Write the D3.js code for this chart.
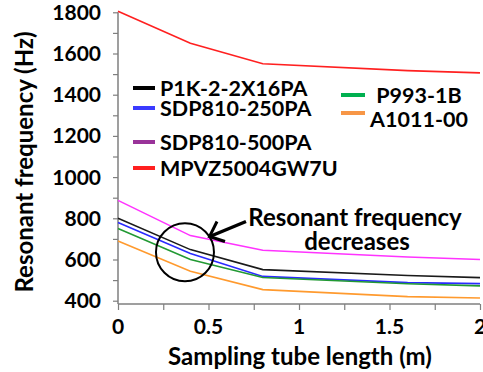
<!DOCTYPE html>
<html>
<head>
<meta charset="utf-8">
<script src="https://cdn.jsdelivr.net/npm/d3@7"></script>
<style>
  body { margin: 0; background: #fff; }
  text { font-family: Lato, "Open Sans", sans-serif; font-weight: 700; fill: #000; }
</style>
</head>
<body>
<script>
// tube lengths (m) where the frequency was measured
var lengths = [0, 0.4, 0.8, 1.6, 2];

// resonant frequency (Hz) per sensor
var p1k = [800, 648, 551, 522, 512];
var sdp250 = [780, 629, 518, 488, 483];
var sdp500 = [887, 716, 645, 612, 600];
var mpvz = [1805, 1650, 1550, 1517, 1506];
var p993 = [750, 600, 513, 482, 472];
var a1011 = [690, 543, 454, 420, 413];

var names = ['P1K-2-2X16PA', 'SDP810-250PA', 'SDP810-500PA', 'MPVZ5004GW7U', 'P993-1B', 'A1011-00'];
var xTicks = [0, 0.5, 1, 1.5, 2];
var yTicks = [400, 600, 800, 1000, 1200, 1400, 1600, 1800];

var series = [
  {name: names[0], values: p1k, color: '#1a1a1a', legend: '#000000'},
  {name: names[1], values: sdp250, color: '#2a2aff', legend: '#3a3aff'},
  {name: names[2], values: sdp500, color: '#ff33ff', legend: '#993399'},
  {name: names[3], values: mpvz, color: '#ff2020', legend: '#ff2020'},
  {name: names[4], values: p993, color: '#229933', legend: '#00b050'},
  {name: names[5], values: a1011, color: '#ff9a2e', legend: '#f79646'}
];

var W = 483, H = 372;
var svg = d3.select('body').append('svg').attr('width', W).attr('height', H);

var x = d3.scaleLinear().domain([0, 2]).range([118, 480]);
var y = d3.scaleLinear().domain([384, 1800]).range([304, 12.3]);

// axes, minor ticks included
var xAxis = svg.append('g').attr('transform', 'translate(0,' + y(384) + ')');
xAxis.call(d3.axisBottom(x).tickValues(d3.range(0, 2.01, 0.25)).tickSize(6).tickFormat(''));
var yAxis = svg.append('g').attr('transform', 'translate(' + x(0) + ',0)');
yAxis.call(d3.axisLeft(y).tickValues(d3.range(400, 1801, 100)).tickSize(5).tickFormat(''));
svg.selectAll('.domain').attr('stroke', '#7f7f7f').attr('stroke-width', 1.5);
svg.selectAll('.tick line').attr('stroke', '#7f7f7f').attr('stroke-width', 1.2);
yAxis.select('.domain').attr('d', 'M0,' + y(1800) + 'V' + y(384));
xAxis.select('.domain').attr('d', 'M' + x(0) + ',0H' + x(2));

svg.selectAll('.ylab').data(yTicks).enter().append('text')
  .attr('x', 101).attr('y', function(d) { return y(d) + 7.5; })
  .attr('text-anchor', 'end').style('font-size', '21px')
  .text(function(d) { return d; });

svg.selectAll('.xlab').data(xTicks).enter().append('text')
  .attr('x', function(d) { return x(d); }).attr('y', 334)
  .attr('text-anchor', 'middle').style('font-size', '21px')
  .text(function(d) { return d; });

svg.append('text').attr('x', 300).attr('y', 365).attr('text-anchor', 'middle')
  .style('font-size', '24px').text('Sampling tube length (m)');
svg.append('text').attr('transform', 'translate(33,162) rotate(-90)').attr('text-anchor', 'middle')
  .style('font-size', '24px').text('Resonant frequency (Hz)');

// lines
var line = d3.line()
  .x(function(d, i) { return x(lengths[i]); })
  .y(function(d) { return y(d); });

series.forEach(function(s) {
  svg.append('path').attr('d', line(s.values))
    .attr('fill', 'none').attr('stroke', s.color).attr('stroke-width', 1.6);
});

// legend
var legY = [88, 108, 142, 168];
for (var i = 0; i < 4; i++) {
  svg.append('line').attr('x1', 133).attr('x2', 155).attr('y1', legY[i]).attr('y2', legY[i])
    .attr('stroke', series[i].legend).attr('stroke-width', 4);
  svg.append('text').attr('x', 160).attr('y', legY[i] + 8).style('font-size', '21.5px').text(series[i].name);
}
var legY2 = [95, 113];
for (var j = 0; j < 2; j++) {
  svg.append('line').attr('x1', 341).attr('x2', 365).attr('y1', legY2[j]).attr('y2', legY2[j])
    .attr('stroke', series[4 + j].legend).attr('stroke-width', 4);
  svg.append('text').attr('x', 419).attr('y', legY2[j] + 8 + j * 6).attr('text-anchor', 'middle')
    .style('font-size', '21.5px').text(series[4 + j].name);
}

// annotation
svg.append('circle').attr('cx', x(0.37)).attr('cy', y(635)).attr('r', 29)
  .attr('fill', 'none').attr('stroke', '#000').attr('stroke-width', 2);
svg.append('line').attr('x1', 246).attr('y1', 221.5).attr('x2', 211).attr('y2', 236)
  .attr('stroke', '#000').attr('stroke-width', 3.5);
svg.append('path').attr('d', 'M217,221.5L209.5,236.5L225,241.5')
  .attr('fill', 'none').attr('stroke', '#000').attr('stroke-width', 3)
  .attr('stroke-linejoin', 'miter');
svg.append('text').attr('x', 355).attr('y', 226).attr('text-anchor', 'middle')
  .style('font-size', '24px').text('Resonant frequency');
svg.append('text').attr('x', 357).attr('y', 250).attr('text-anchor', 'middle')
  .style('font-size', '24px').text('decreases');
</script>
</body>
</html>
